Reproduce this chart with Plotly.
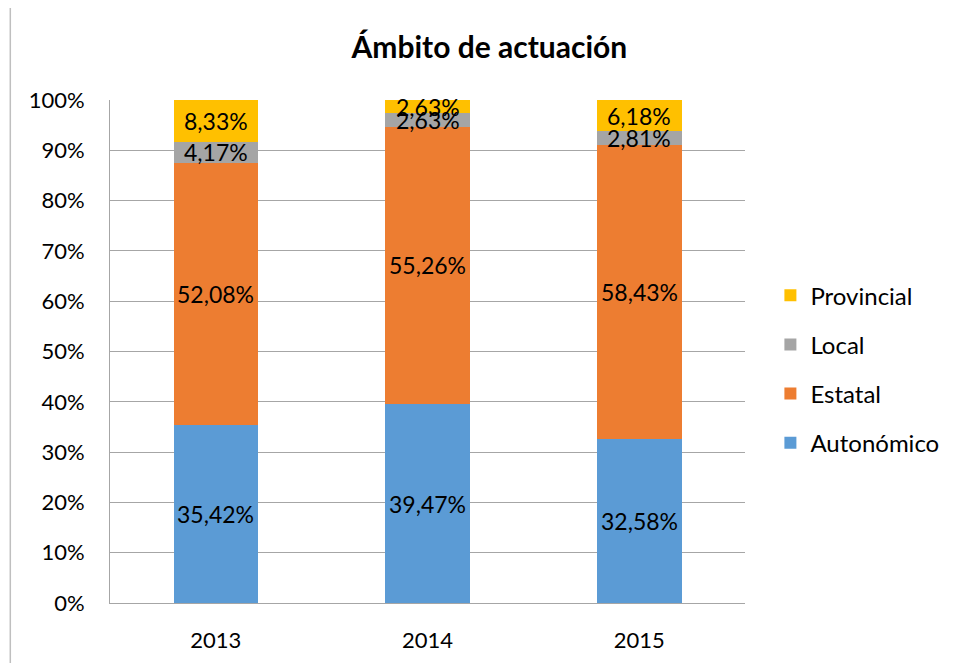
import plotly.graph_objects as go

years = ["2013", "2014", "2015"]
series_names = ["Autonómico", "Estatal", "Local", "Provincial"]
autonomico = [35.42, 39.47, 32.58]
estatal = [52.08, 55.26, 58.43]
local = [4.17, 2.63, 2.81]
provincial = [8.33, 2.63, 6.18]
colors = ["#5B9BD5", "#ED7D31", "#A5A5A5", "#FFC000"]
y_ticks = [0, 10, 20, 30, 40, 50, 60, 70, 80, 90, 100]
y_ticktext = [f"{t}%" for t in y_ticks]

FONT = "Lato"
all_series = [autonomico, estatal, local, provincial]

fig = go.Figure()
for k, (name, vals, col) in enumerate(zip(series_names, all_series, colors)):
    fig.add_trace(go.Bar(
        x=years, y=vals, name=name, marker=dict(color=col, line=dict(width=0)),
        legendgroup=name, legendrank=len(series_names) - k,
    ))

# data labels centred in each segment
annotations = []
base = [0.0, 0.0, 0.0]
for vals in all_series:
    for i, v in enumerate(vals):
        annotations.append(dict(
            x=i, y=base[i] + v / 2, xref="x", yref="y",
            text=f"{v:.2f}".replace(".", ",") + "%", showarrow=False,
            font=dict(family=FONT, size=23, color="#000000"),
        ))
        base[i] += v

# page body has an 8px margin -> compensate
fig.update_layout(
    barmode="stack",
    bargap=0.6,
    width=957, height=663,
    margin=dict(l=102, r=220, t=92, b=68, autoexpand=False),
    paper_bgcolor="white", plot_bgcolor="white",
    title=dict(text="<b>Ámbito de actuación</b>", x=0.503, xanchor="center",
               y=0.94, yanchor="middle",
               font=dict(family=FONT, size=30, color="#000000")),
    font=dict(family=FONT, size=22, color="#000000"),
    legend=dict(traceorder="grouped", tracegroupgap=15,
                x=1.04, xanchor="left", y=0.465, yanchor="middle",
                font=dict(family=FONT, size=24, color="#000000")),
    annotations=annotations,
    shapes=[dict(type="rect", xref="paper", yref="paper",
                 x0=-0.157, x1=1.8, y0=-0.3, y1=1.185,
                 line=dict(color="#BFBFBF", width=1.5), fillcolor="rgba(0,0,0,0)",
                 layer="below")],
    showlegend=True,
)
fig.update_yaxes(range=[0, 100], tickvals=y_ticks, ticktext=y_ticktext,
                 showgrid=True, gridcolor="#A6A6A6", gridwidth=1,
                 showline=True, linecolor="#A6A6A6", linewidth=1,
                 ticks="outside", ticklen=20, tickcolor="rgba(0,0,0,0)", zeroline=False,
                 tickfont=dict(family=FONT, size=22, color="#000000"))
fig.update_xaxes(type="category", showline=True, linecolor="#A6A6A6", linewidth=1,
                 ticks="outside", ticklen=18, tickcolor="rgba(0,0,0,0)",
                 tickfont=dict(family=FONT, size=22, color="#000000"))

fig.write_html("out.html")
